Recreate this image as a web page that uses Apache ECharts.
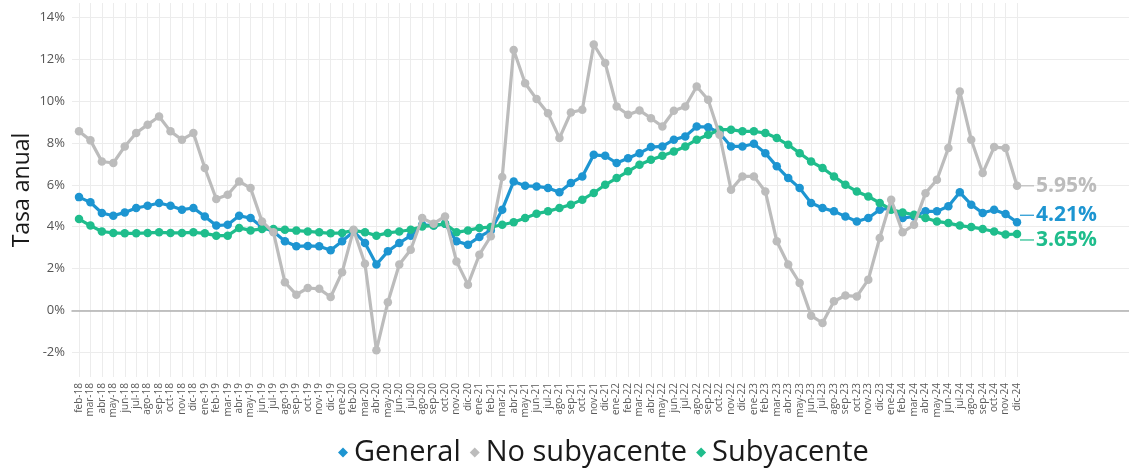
<!DOCTYPE html>
<html>
<head>
<meta charset="utf-8">
<script src="https://cdn.jsdelivr.net/npm/echarts@6/dist/echarts.min.js"></script>
<style>
  html, body { margin: 0; padding: 0; background: #fff; }
  #chart { width: 1129px; height: 470px; }
</style>
</head>
<body>
<div id="chart"></div>
<script>
const months = [
  'feb-18','mar-18','abr-18','may-18','jun-18','jul-18','ago-18','sep-18','oct-18','nov-18','dic-18',
  'ene-19','feb-19','mar-19','abr-19','may-19','jun-19','jul-19','ago-19','sep-19','oct-19','nov-19','dic-19',
  'ene-20','feb-20','mar-20','abr-20','may-20','jun-20','jul-20','ago-20','sep-20','oct-20','nov-20','dic-20',
  'ene-21','feb-21','mar-21','abr-21','may-21','jun-21','jul-21','ago-21','sep-21','oct-21','nov-21','dic-21',
  'ene-22','feb-22','mar-22','abr-22','may-22','jun-22','jul-22','ago-22','sep-22','oct-22','nov-22','dic-22',
  'ene-23','feb-23','mar-23','abr-23','may-23','jun-23','jul-23','ago-23','sep-23','oct-23','nov-23','dic-23',
  'ene-24','feb-24','mar-24','abr-24','may-24','jun-24','jul-24','ago-24','sep-24','oct-24','nov-24','dic-24'
];

const general = [
  5.41, 5.16, 4.65, 4.52, 4.68, 4.89, 5.00, 5.13, 5.00, 4.81, 4.89,
  4.49, 4.05, 4.09, 4.52, 4.41, 3.98, 3.77, 3.30, 3.06, 3.08, 3.06, 2.87,
  3.30, 3.77, 3.22, 2.19, 2.82, 3.22, 3.57, 4.09, 4.05, 4.14, 3.30, 3.14,
  3.51, 3.82, 4.81, 6.16, 5.95, 5.92, 5.85, 5.64, 6.08, 6.40, 7.43, 7.38,
  7.04, 7.27, 7.51, 7.80, 7.83, 8.15, 8.31, 8.78, 8.75, 8.47, 7.83, 7.83,
  7.96, 7.51, 6.88, 6.32, 5.84, 5.13, 4.89, 4.73, 4.49, 4.25, 4.41, 4.81,
  4.89, 4.41, 4.49, 4.73, 4.73, 4.97, 5.64, 5.05, 4.65, 4.81, 4.60, 4.21
];

const noSubyacente = [
  8.55, 8.12, 7.11, 7.04, 7.83, 8.47, 8.87, 9.26, 8.55, 8.15, 8.47,
  6.80, 5.32, 5.52, 6.16, 5.84, 4.25, 3.73, 1.34, 0.75, 1.07, 1.03, 0.64,
  1.82, 3.85, 2.23, -1.90, 0.39, 2.19, 2.90, 4.41, 4.14, 4.49, 2.34, 1.23,
  2.66, 3.54, 6.37, 12.44, 10.85, 10.09, 9.42, 8.23, 9.45, 9.58, 12.70, 11.81,
  9.74, 9.34, 9.55, 9.18, 8.78, 9.53, 9.74, 10.69, 10.06, 8.39, 5.76, 6.40,
  6.40, 5.68, 3.30, 2.19, 1.31, -0.25, -0.60, 0.44, 0.71, 0.67, 1.47, 3.46,
  5.29, 3.73, 4.09, 5.60, 6.24, 7.75, 10.45, 8.15, 6.56, 7.80, 7.75, 5.95
];

const subyacente = [
  4.36, 4.05, 3.77, 3.70, 3.68, 3.68, 3.70, 3.73, 3.70, 3.70, 3.73,
  3.68, 3.57, 3.57, 3.94, 3.82, 3.89, 3.89, 3.85, 3.81, 3.77, 3.73, 3.68,
  3.70, 3.82, 3.73, 3.57, 3.70, 3.77, 3.85, 4.01, 4.05, 4.14, 3.73, 3.82,
  3.94, 3.98, 4.09, 4.21, 4.41, 4.62, 4.73, 4.89, 5.05, 5.29, 5.61, 6.00,
  6.32, 6.64, 6.96, 7.19, 7.38, 7.59, 7.83, 8.15, 8.39, 8.63, 8.63, 8.55,
  8.55, 8.47, 8.23, 7.91, 7.51, 7.11, 6.80, 6.40, 6.00, 5.68, 5.44, 5.13,
  4.81, 4.68, 4.57, 4.41, 4.25, 4.17, 4.05, 3.98, 3.89, 3.77, 3.62, 3.65
];

const FONT = '"Open Sans", "Noto Sans", sans-serif';
const BLUE = '#1d95d1';
const GRAY = '#bcbcbc';
const GREEN = '#1fbd8c';

// y range of the panel (a bit wider than the labelled ticks)
const Y_MIN = -3.18, Y_MAX = 14.68;

function lineSeries(name, data, color, z, dy) {
  return {
    name, type: 'line', data, z,
    xAxisIndex: 0, yAxisIndex: 0,
    symbol: 'circle', symbolSize: 8.5,
    lineStyle: { color, width: 3.2 },
    itemStyle: { color },
    emphasis: { disabled: true },
    endLabel: {
      show: true,
      formatter: p => '{l|}{t|' + p.value.toFixed(2) + '%}',
      distance: 3, offset: [0, dy],
      rich: {
        l: { width: 14, height: 1.2, backgroundColor: color },
        t: { color, fontFamily: FONT, fontSize: 21, fontWeight: 'bold', padding: [0, 0, 0, 2] }
      }
    }
  };
}

const chart = echarts.init(document.getElementById('chart'), null, { renderer: 'canvas' });

chart.setOption({
  animation: false,
  backgroundColor: '#fff',
  grid: [
    { left: 79, right: 112, top: 3, bottom: 93 },
    { left: 72, right: 0, top: 17.3, bottom: 117.7 }
  ],
  legend: {
    data: ['General', 'No subyacente', 'Subyacente'],
    top: 433, left: 333,
    icon: 'diamond', itemWidth: 10, itemHeight: 10, itemGap: 9,
    textStyle: { fontFamily: FONT, fontSize: 29, color: '#1a1a1a', padding: [0, 0, 0, 1] }
  },
  xAxis: [
    {
      type: 'category', gridIndex: 0, data: months, boundaryGap: false,
      axisLine: { show: false }, axisTick: { show: false },
      splitLine: { show: true, lineStyle: { color: '#ececec', width: 1 } },
      axisLabel: { interval: 0, rotate: 90, fontFamily: FONT, fontSize: 10, color: '#5a5a5a', margin: 6 }
    },
    {
      type: 'value', gridIndex: 1, min: 0, max: 1,
      axisLabel: { show: false }, axisTick: { show: false }, splitLine: { show: false },
      axisLine: { show: true, onZero: true, lineStyle: { color: '#b0b0b0', width: 1.5 } }
    }
  ],
  yAxis: [
    {
      type: 'value', gridIndex: 0, min: Y_MIN, max: Y_MAX,
      axisLabel: { show: false }, axisTick: { show: false },
      axisLine: { show: false }, splitLine: { show: false },
      name: 'Tasa anual', nameLocation: 'middle', nameGap: 45,
      nameTextStyle: { fontFamily: FONT, fontSize: 23, color: '#1a1a1a' }
    },
    {
      type: 'value', gridIndex: 1, min: -2, max: 14, interval: 2,
      axisTick: { show: false }, axisLine: { show: false },
      splitLine: { show: true, lineStyle: { color: '#ececec', width: 1 } },
      axisLabel: { formatter: v => v + '%', fontFamily: FONT, fontSize: 13, color: '#555', margin: 7 }
    }
  ],
  series: [
    lineSeries('General', general, BLUE, 3, -7),
    lineSeries('No subyacente', noSubyacente, GRAY, 5, 0),
    lineSeries('Subyacente', subyacente, GREEN, 4, 6)
  ]
});
</script>
</body>
</html>
